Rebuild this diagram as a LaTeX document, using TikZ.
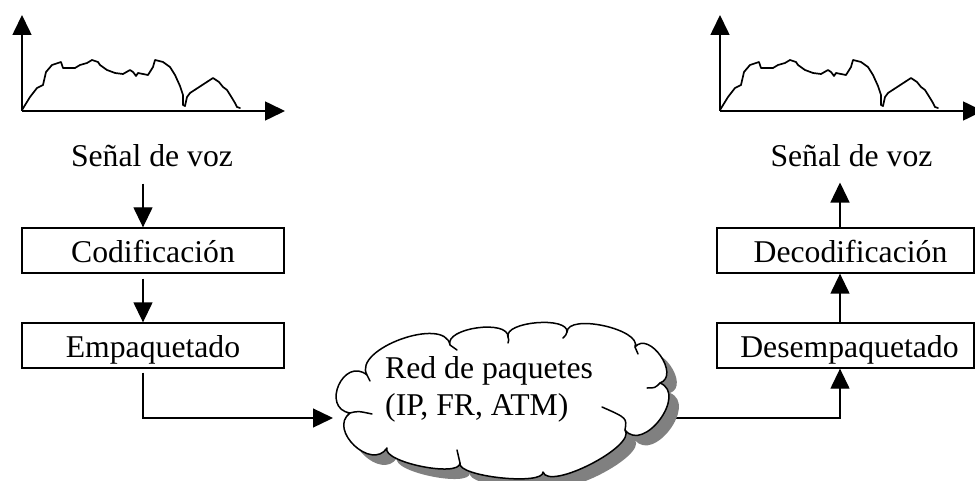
\documentclass[tikz,border=0pt]{standalone}
\usepackage{fontspec}
\setmainfont{Liberation Serif}
\usetikzlibrary{arrows.meta,calc}
\definecolor{shadowgray}{RGB}{128,128,128}
\begin{document}
\begin{tikzpicture}[x=1pt,y=1pt,
  txt/.style={font=\fontsize{31.7pt}{36pt}\selectfont, inner sep=0pt},
  box/.style={txt, draw, line width=1.3pt, minimum height=45pt, text height=23pt, text depth=0pt},
  lbl/.style={txt, anchor=base},
  arr/.style={line width=1.3pt, -{Triangle[length=20pt,width=19pt]}},
  axis/.style={line width=1.6pt, -{Triangle[length=20pt,width=19pt]}},
  wave/.style={line width=1.7pt, line join=round, line cap=round},
  cloudline/.style={line width=1.5pt, line join=round, line cap=round},
  chart/.pic={
    \draw[axis] (0,0) -- (0,96);
    \draw[axis] (0,0) -- (263,0);
    \draw[wave] (0,1) -- (8,14) -- (15,23) -- (21,26) -- (24,39) -- (30,46) -- (39,49) -- (41,43) -- (53,43) -- (58,46) -- (65,48) -- (70,51) -- (76,49) -- (78,46) -- (85,41) -- (93,38) -- (101,37) -- (108,41) -- (111,39) -- (114,35) -- (116,38) -- (121,37) -- (126,36) -- (131,44) -- (133,51) -- (141,49) -- (148,44) -- (153,36) -- (158,25) -- (161,16) -- (161,6) -- (163,5) -- (165,14) -- (168,18) -- (191,33) -- (197,29) -- (201,24) -- (205,21) -- (210,13) -- (213,8) -- (215,4) -- (218,3);
  },
  cloudshape/.pic={
    \path[pic actions]
      (350,-413)
      .. controls ($(350,-413)!30pt!105:(367,-375)$) and ($(367,-375)!30pt!-105:(350,-413)$) .. (367,-375)
      .. controls ($(367,-375)!30pt!100:(450,-345)$) and ($(450,-345)!30pt!-100:(367,-375)$) .. (450,-345)
      .. controls ($(450,-345)!18pt!100:(508,-337)$) and ($(508,-337)!18pt!-100:(450,-345)$) .. (508,-337)
      .. controls ($(508,-337)!16pt!100:(567,-332)$) and ($(567,-332)!16pt!-100:(508,-337)$) .. (567,-332)
      .. controls ($(567,-332)!19pt!100:(635,-347)$) and ($(635,-347)!19pt!-100:(567,-332)$) .. (635,-347)
      .. controls ($(635,-347)!22pt!105:(660,-383)$) and ($(660,-383)!22pt!-105:(635,-347)$) .. (660,-383)
      .. controls ($(660,-383)!30pt!105:(625,-430)$) and ($(625,-430)!30pt!-105:(660,-383)$) .. (625,-430)
      .. controls ($(625,-430)!20pt!100:(543,-472)$) and ($(543,-472)!20pt!-100:(625,-430)$) .. (543,-472)
      .. controls ($(543,-472)!14pt!100:(460,-463)$) and ($(460,-463)!14pt!-100:(543,-472)$) .. (460,-463)
      .. controls ($(460,-463)!15pt!100:(387,-448)$) and ($(387,-448)!15pt!-100:(460,-463)$) .. (387,-448)
      .. controls ($(387,-448)!28pt!100:(350,-413)$) and ($(350,-413)!28pt!-100:(387,-448)$) .. (350,-413)
      -- cycle;
  }
]
\useasboundingbox (0,0) rectangle (975,-481);

% charts
\pic at (22,-111) {chart};
\pic at (720,-111) {chart};

% helper x positions
\coordinate (lx) at (143,0);
\coordinate (rx) at (840,0);
\coordinate (cin) at (333,-418);
\coordinate (cout) at (660,-418);

% left column
\node[lbl] (sv1) at (152,-167) {Señal de voz};
\node[box, minimum width=262pt] (cod) at (153,-250.5) {Codificación};
\node[box, minimum width=262pt] (emp) at (153,-345.5) {Empaquetado};

% right column
\node[lbl] (sv2) at (851.5,-167) {Señal de voz};
\node[box, minimum width=257pt] (dec) at (845.5,-250.5) {\hspace*{10pt}Decodificación};
\node[box, minimum width=257pt] (des) at (845.5,-345.5) {\hspace*{8pt}Desempaquetado};

% connectors
\draw[arr, shorten <=16pt] (sv1.south -| lx) -- (cod.north -| lx);
\draw[arr, shorten <=5pt] (cod.south -| lx) -- (emp.north -| lx);
\draw[arr, shorten <=4pt] (emp.south -| lx) |- (cin);
\draw[arr] (cout) -| (des.south -| rx);
\draw[arr] (des.north -| rx) -- (dec.south -| rx);
\draw[arr, shorten >=15pt] (dec.north -| rx) -- (sv2.south -| rx);

% cloud
\pic[fill=shadowgray] at (10,-10) {cloudshape};
\pic[draw, fill=white, cloudline] at (0,0) {cloudshape};
\draw[cloudline] (350,-413) .. controls (358,-411) .. (372,-414);
\draw[cloudline] (625,-430) .. controls (627,-418) .. (602,-407);
\draw[cloudline] (660,-383) .. controls (655,-388) .. (647,-388);
\draw[cloudline] (635,-347) .. controls (637,-350) .. (638,-354);
\draw[cloudline] (567,-332) .. controls (566,-335) .. (563,-338);
\draw[cloudline] (508,-337) .. controls (509,-340) .. (508,-343);
\draw[cloudline] (450,-345) .. controls (453,-347) .. (457,-350);
\draw[cloudline] (460,-463) .. controls (458,-457) .. (457,-450);
\draw[cloudline] (367,-375) .. controls (368,-378) .. (370,-381);

\node[txt, anchor=base west] (net1) at (385,-378) {Red de paquetes};
\node[txt, anchor=base west] (net2) at (385,-415) {(IP, FR, ATM)};
\end{tikzpicture}
\end{document}
